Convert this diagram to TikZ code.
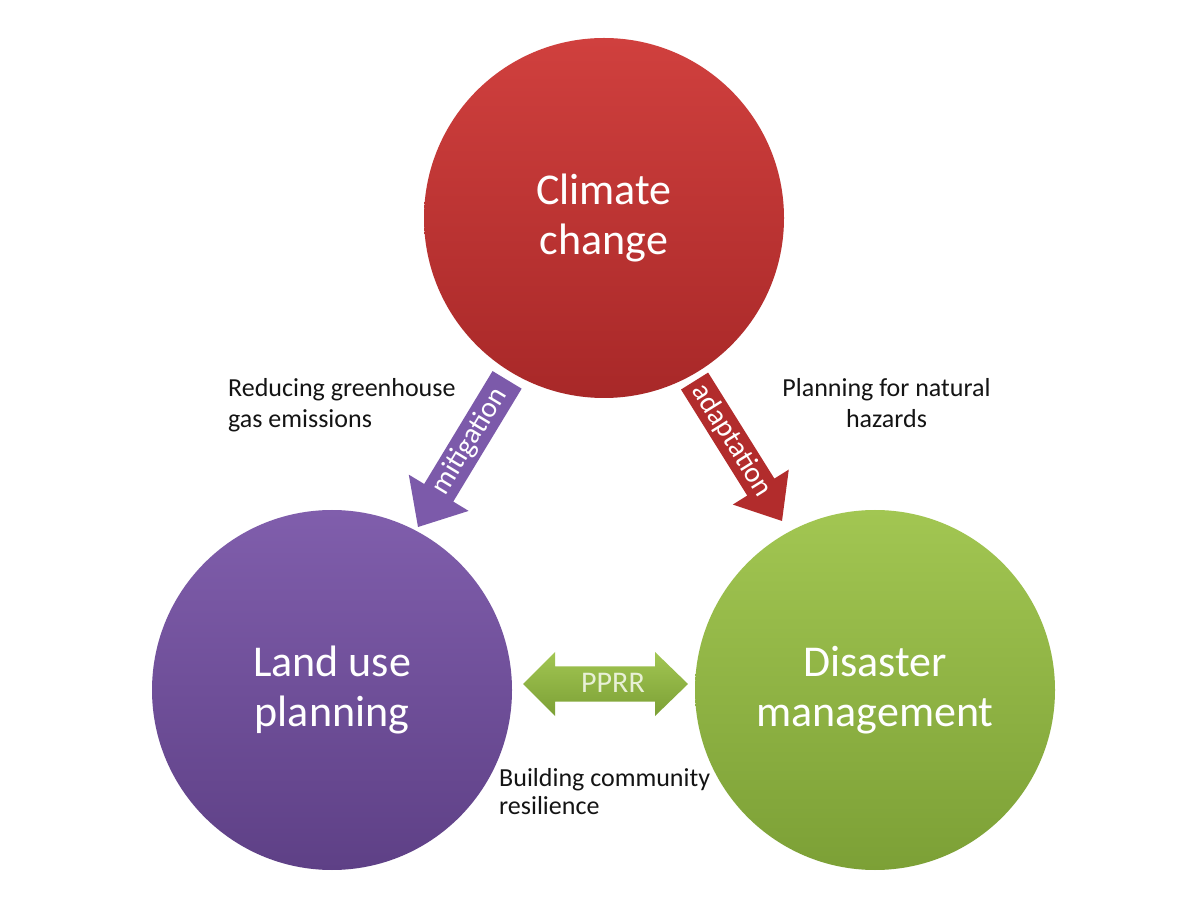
\documentclass[tikz,border=0pt]{standalone}
\usepackage{fontspec}
\setmainfont{Carlito}
\definecolor{redT}{RGB}{208,64,62}
\definecolor{redB}{RGB}{168,40,40}
\definecolor{purT}{RGB}{128,94,172}
\definecolor{purB}{RGB}{94,64,134}
\definecolor{grnT}{RGB}{162,198,82}
\definecolor{grnB}{RGB}{124,160,54}
\definecolor{purA}{RGB}{124,90,170}
\definecolor{redA}{RGB}{178,44,44}
\definecolor{pprrtxt}{RGB}{232,240,214}
\definecolor{labtxt}{RGB}{20,20,20}
\begin{document}
\begin{tikzpicture}[x=1pt,y=1pt,
  circ/.style={circle, minimum size=360pt, inner sep=0pt, align=center,
    text=white, font=\fontsize{44}{50}\selectfont},
  lab/.style={inner sep=0pt, text=labtxt, font=\fontsize{26}{31}\selectfont},
  arrtxt/.style={text=white, inner sep=0pt, font=\fontsize{29}{30}\selectfont}]
\useasboundingbox (0,0) rectangle (1199,900);
\fill[white] (0,0) rectangle (1199,900);

% mitigation arrow
\begin{scope}[shift={(418,373)}, rotate=58.8]
  \fill[purA] (0,0) -- (40,35) -- (40,17) -- (172,17) -- (172,-17)
    -- (40,-17) -- (40,-35) -- cycle;
  \node[arrtxt, transform shape] (mit) at (100,0) {mitigation};
\end{scope}

% adaptation arrow
\begin{scope}[shift={(782,379)}, rotate=122]
  \fill[redA] (0,0) -- (40,33) -- (40,16) -- (165,16) -- (165,-16)
    -- (40,-16) -- (40,-33) -- cycle;
  \node[arrtxt, transform shape, rotate=180] (ada) at (95,0) {adaptation};
\end{scope}

% PPRR double arrow
\shade[top color=grnT, bottom color=grnB]
  (523,216) -- (555,248) -- (555,233.5) -- (655,233.5) -- (655,248)
  -- (688,216) -- (655,184) -- (655,198.5) -- (555,198.5) -- (555,184) -- cycle;
\node[inner sep=0pt, text=pprrtxt, font=\fontsize{30}{32}\selectfont] (pprr) at (613,217) {PPRR};

% circles
\node[circ, top color=redT, bottom color=redB] (cc) at (604,682) {Climate\\change};
\node[circ, top color=purT, bottom color=purB] (lu) at (332,210) {Land use\\planning};
\node[circ, top color=grnT, bottom color=grnB] (dm) at (875,210) {Disaster\\management};

% labels (base anchor = baseline of last line)
\node[lab, align=left, anchor=base west] (l1) at (228,472) {Reducing greenhouse\\gas emissions};
\node[lab, align=center, anchor=base] (l2) at (886.5,472) {Planning for natural\\hazards};
\node[lab, align=left, anchor=base west, font=\fontsize{26}{28}\selectfont] (l3) at (499,86) {Building community\\resilience};
\end{tikzpicture}
\end{document}
